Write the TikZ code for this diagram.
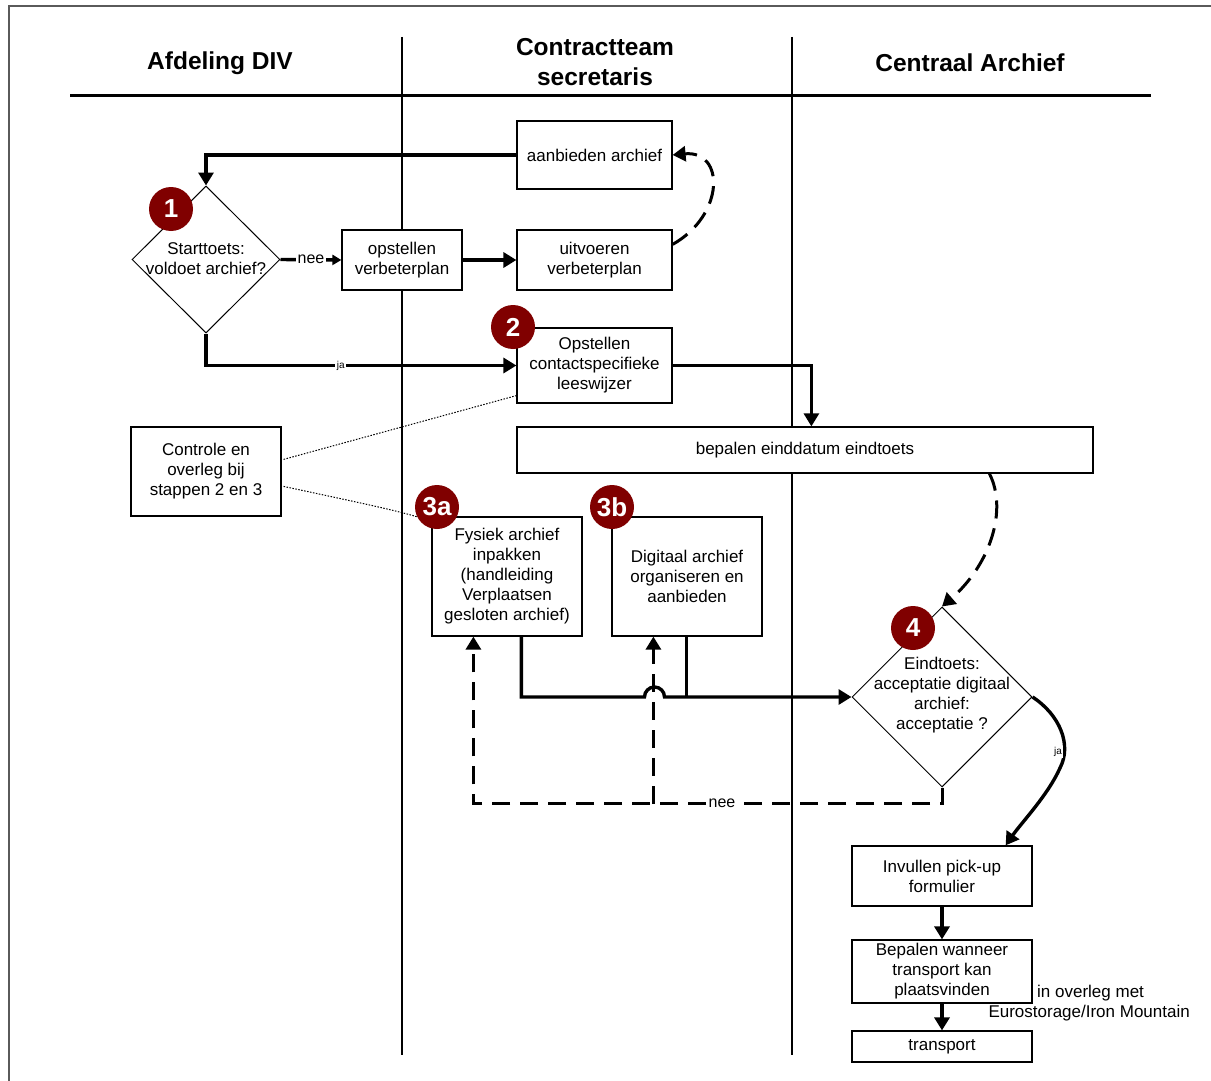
\documentclass[tikz,border=0pt]{standalone}
\usepackage{fontspec}
\setmainfont{Liberation Sans}
\usetikzlibrary{arrows.meta,shapes.geometric,calc}
\definecolor{badgered}{RGB}{128,0,0}
\definecolor{framegray}{RGB}{90,90,90}
\begin{document}
\begin{tikzpicture}[x=1pt,y=-1pt,
  box/.style={draw, line width=1.2pt, fill=white, inner sep=0pt, align=center, font=\fontsize{17}{20}\selectfont},
  txt/.style={inner sep=0pt, align=center, font=\fontsize{17}{20}\selectfont},
  dia/.style={draw, diamond, line width=1pt, fill=white, inner sep=0pt, aspect=1},
  badgec/.style={circle, fill=badgered, inner sep=0pt, minimum size=44pt, text=white, font=\fontsize{26}{26}\selectfont\bfseries},
  head/.style={align=center, inner sep=0pt, font=\fontsize{24.5}{30}\selectfont\bfseries},
  conn/.style={line width=3.4pt},
  tipa/.style={-{Triangle[length=13pt,width=15pt]}},
  tipb/.style={-{Triangle[length=9pt,width=10pt]}},
  dsh/.style={line width=3pt, dash pattern=on 18pt off 10pt},
  dotl/.style={line width=1pt, dash pattern=on 1.5pt off 1.5pt},
  lbl/.style={fill=white, inner sep=1.5pt, font=\fontsize{16}{18}\selectfont},
  lblsmall/.style={fill=white, inner sep=1.5pt, font=\fontsize{10}{12}\selectfont},
]
\useasboundingbox (0,0) rectangle (1211,1081);
% frame
\draw[framegray, line width=2.5pt] (1211,6) -- (9,6) -- (9,1081);
% lanes
\draw[line width=1.2pt] (402,37) -- (402,1055);
\draw[line width=1.2pt] (792,37) -- (792,1055);
\draw[line width=3pt] (70,96) -- (1151,96);
% headers
\node[head] (h1) at (220,63) {Afdeling DIV};
\node[head] (h2) at (595,62) {Contractteam\\secretaris};
\node[head] (h3) at (970,63) {Centraal Archief};
% boxes
\node[box, minimum width=155pt, minimum height=68pt] (aanb) at (594.5,155) {aanbieden archief};
\node[box, minimum width=155pt, minimum height=60pt] (uv) at (594.5,260) {uitvoeren\\verbeterplan};
\node[box, minimum width=120pt, minimum height=60pt] (ob) at (402,260) {opstellen\\verbeterplan};
\node[dia, minimum width=148pt, minimum height=147pt] (d1) at (206,259.5) {};
\node[txt] (d1t) at (206,259) {Starttoets:\\voldoet archief?};
\node[box, minimum width=155pt, minimum height=75pt] (op) at (594.5,365.5) {Opstellen\\contactspecifieke\\leeswijzer};
\node[box, minimum width=576pt, minimum height=46pt] (bep) at (805,450) {bepalen einddatum eindtoets};
\node[box, minimum width=150pt, minimum height=89pt] (ctrl) at (206,471.5) {Controle en\\overleg bij\\stappen 2 en 3};
\node[box, minimum width=150pt, minimum height=119pt] (f3a) at (507,576.5) {Fysiek archief\\inpakken\\(handleiding\\Verplaatsen\\gesloten archief)};
\node[box, minimum width=150pt, minimum height=119pt] (d3b) at (687,576.5) {Digitaal archief\\organiseren en\\aanbieden};
\node[dia, minimum width=180pt, minimum height=180pt] (d4) at (942,697) {};
\node[txt] (d4t) at (942,695) {Eindtoets:\\acceptatie digitaal\\archief:\\acceptatie ?};
\node[box, minimum width=180pt, minimum height=60pt] (inv) at (942,876) {Invullen pick-up\\formulier};
\node[box, minimum width=180pt, minimum height=63pt] (bw) at (942,971.5) {Bepalen wanneer\\transport kan\\plaatsvinden};
\node[box, minimum width=180pt, minimum height=31pt] (tr) at (942,1046.5) {transport};
\node[txt, anchor=west] (ov1) at (1037,993) {in overleg met};
\node[txt, anchor=east] (ov2) at (1190,1013) {Eurostorage/Iron Mountain};
% connectors
\draw[conn, tipa] (aanb.west) -| (d1.north);
\draw[conn, tipb] (d1.east) -- node[lbl] (nee1) {nee} (ob.west);
\draw[conn, tipa] (ob.east) -- (uv.west);
\draw[dsh, tipa] ($(uv.north east)+(0,15)$) .. controls (725,215) and (725,150) .. (aanb.east);
\draw[conn, tipa] (d1.south) |- node[pos=0.717, lblsmall] (ja1) {ja} (op.west);
\draw[line width=2.8pt, tipa] (op.east) -| ($(bep.north west)+(295,0)$);
\draw[dotl] ($(ctrl.north east)+(2,33)$) -- ($(op.south west)+(0,-8)$);
\draw[dotl] ($(ctrl.north east)+(2,60)$) .. controls (370,505) and (405,512) .. ($(f3a.north west)+(0,5)$);
\draw[dsh, tipa] ($(bep.south west)+(473,0)$) .. controls (1008,510) and (990,565) .. (d4.north);
\draw[dsh, tipa] (d4.south) |- ($(f3a.south west)+(42,167)$) -- ($(f3a.south west)+(42,0)$);
\draw[dsh, tipa] ($(d3b.south west)+(42,167)$) -- ($(d3b.south west)+(42,0)$);
\node[lbl] (nee2) at (722,803) {nee};
\draw[conn, tipa] ($(f3a.south west)+(90,0)$) |- ($(d4.west)+(-207,0)$) arc[start angle=180,end angle=0,radius=10pt] -- (d4.west);
\draw[conn] ($(d3b.south west)+(75,0)$) -- ++(0,61);
\draw[conn, tipa] (d4.east) .. controls (1060,715) and (1072,745) .. (1060,768) .. controls (1048,795) and (1022,822) .. ($(inv.north east)+(-27,0)$);
\node[lblsmall] (ja2) at (1058,752) {ja};
\draw[conn, tipa] (inv.south) -- (bw.north);
\draw[conn, tipa] (bw.south) -- (tr.north);
% badges
\node[badgec] (b1) at (171,209) {1};
\node[badgec] (b2) at (513,327) {2};
\node[badgec] (b3a) at (437,507) {3a};
\node[badgec] (b3b) at (612,507) {3b};
\node[badgec] (b4) at (913,628) {4};
\end{tikzpicture}
\end{document}
